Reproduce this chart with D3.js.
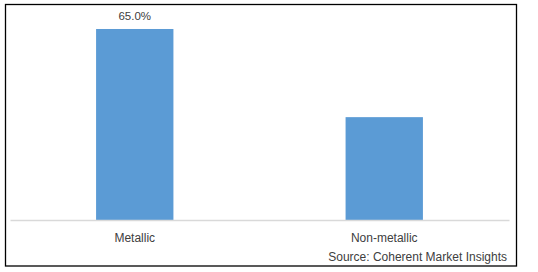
<!DOCTYPE html>
<html>
<head>
<meta charset="utf-8">
<script src="https://cdn.jsdelivr.net/npm/d3@7"></script>
<style>
  body { margin: 0; background: #fff; }
  svg text { font-family: "Liberation Sans", Arial, sans-serif; fill: #404040; }
</style>
</head>
<body>
<div id="chart"></div>
<script>
// chart data
const categories = ['Metallic', 'Non-metallic'];
const shares = [65.0, 35.0];
const labels = ['65.0%', ''];
const source = 'Source: Coherent Market Insights';

const w = 538;
const h = 272;

const svg = d3.select('#chart')
  .append('svg')
  .attr('width', w)
  .attr('height', h);

// outer frame
svg.append('rect')
  .attr('x', 5.5)
  .attr('y', 4.5)
  .attr('width', 511)
  .attr('height', 261.5)
  .attr('fill', 'none')
  .attr('stroke', '#000')
  .attr('stroke-width', 1.3);

// scales
const xScale = d3.scaleBand()
  .domain(categories)
  .range([10, 509])
  .paddingInner(0.69)
  .paddingOuter(0.345);

const yScale = d3.scaleLinear()
  .domain([0, 70])
  .range([220, 14.3]);

// bars
svg.selectAll('.bar')
  .data(categories)
  .enter()
  .append('rect')
  .attr('class', 'bar')
  .attr('x', d => xScale(d))
  .attr('y', (d, i) => yScale(shares[i]))
  .attr('width', xScale.bandwidth())
  .attr('height', (d, i) => yScale(0) - yScale(shares[i]))
  .attr('fill', '#5B9BD5');

// value labels
svg.selectAll('.val')
  .data(categories)
  .enter()
  .append('text')
  .attr('class', 'val')
  .attr('x', d => xScale(d) + xScale.bandwidth() / 2)
  .attr('y', (d, i) => yScale(shares[i]) - 9)
  .attr('text-anchor', 'middle')
  .style('font-size', '11.5px')
  .text((d, i) => labels[i]);

// x axis
const xAxis = d3.axisBottom(xScale).tickSize(0).tickPadding(13);
const gx = svg.append('g')
  .attr('transform', 'translate(0,' + yScale(0) + ')')
  .call(xAxis);
gx.select('.domain').attr('stroke', '#D9D9D9').attr('stroke-width', 1.3);
gx.selectAll('text')
  .style('font-size', '12px')
  .style('font-family', '"Liberation Sans", Arial, sans-serif')
  .attr('fill', '#404040');

// source note
svg.append('text')
  .attr('x', 507)
  .attr('y', 261)
  .attr('text-anchor', 'end')
  .style('font-size', '12px')
  .text(source);
</script>
</body>
</html>
